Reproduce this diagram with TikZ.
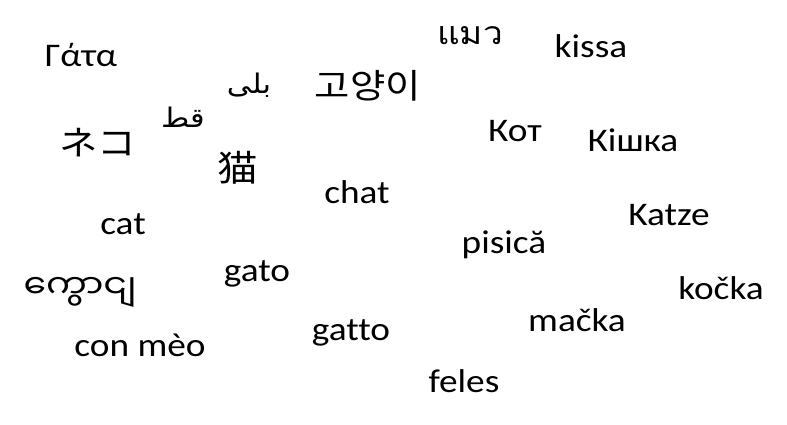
\documentclass[tikz,border=0pt]{standalone}
\usepackage{fontspec}
\setmainfont{Carlito}[FakeStretch=1.13,Ligatures=NoCommon]
\newfontfamily\thaifont[Script=Thai,FakeStretch=1.1]{Loma}
\newfontfamily\korfont[FakeStretch=1.13]{Noto Sans CJK KR}
\newfontfamily\jpfont[FakeStretch=1.13]{Noto Sans CJK JP}
\newfontfamily\arabicfont[Script=Arabic,FakeStretch=1.13]{DejaVu Sans}
\newfontfamily\myanfont[Script=Myanmar,FakeStretch=1.1]{Noto Sans Myanmar UI}
\TeXXeTstate=1
\tikzset{
  word/.style={inner sep=0pt, anchor=base, font=\fontsize{33}{33}\selectfont, text=black},
  oword/.style={inner sep=0pt, anchor=center, text=black},
}
\begin{document}
\begin{tikzpicture}[x=1pt,y=-1pt]
\useasboundingbox[fill=white] (0,0) rectangle (787,425);
\node[word] (el) at (81,67) {Γάτα};
\node[oword, font=\fontsize{32}{32}\thaifont] (th) at (470,36) {แมว};
\node[word] (fi) at (591,58) {kissa};
\node[oword, font=\fontsize{27}{27}\arabicfont] (ar1) at (249,85) {\beginR بلى\endR};
\node[oword, font=\fontsize{34}{34}\korfont] (ko) at (368,86) {고양이};
\node[oword, font=\fontsize{27}{27}\arabicfont] (ar2) at (183,117) {\beginR قط\endR};
\node[oword, font=\fontsize{34}{34}\jpfont] (ja) at (98,143) {ネコ};
\node[word] (ru) at (515,142) {Кот};
\node[word] (uk) at (633,151) {Кішка};
\node[oword, font=\fontsize{36}{36}\jpfont] (zh) at (238,168) {猫};
\node[word] (fr) at (357,203) {chat};
\node[word] (en) at (123,234) {cat};
\node[word] (de) at (669,225) {Katze};
\node[word] (ro) at (504,253) {pisică};
\node[word] (es) at (257,281) {gato};
\node[oword, font=\fontsize{33}{33}\myanfont] (my) at (80,292) {ကွောငျ};
\node[word] (cs) at (721,299) {kočka};
\node[word] (sk) at (577,331) {mačka};
\node[word] (it) at (351,340) {gatto};
\node[word] (vi) at (140,356) {con mèo};
\node[word] (la) at (464,392) {feles};
\end{tikzpicture}
\end{document}
